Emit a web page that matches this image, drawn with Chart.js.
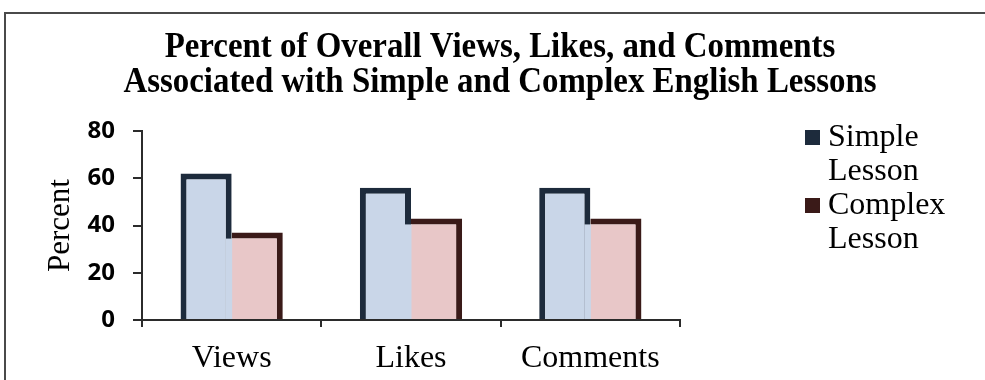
<!DOCTYPE html>
<html>
<head>
<meta charset="utf-8">
<script src="https://cdn.jsdelivr.net/npm/chart.js@4"></script>
<style>
  html, body { margin: 0; padding: 0; background: #fff; }
  #wrap { width: 985px; height: 380px; }
</style>
</head>
<body>
<div id="wrap"><canvas id="lessonChart" width="985" height="380"></canvas></div>
<script>
// ── Data ─────────────────────────────────────────────────────
const categories    = ['Views', 'Likes', 'Comments'];
const simpleValues  = [62, 56, 56];
const complexValues = [37, 43, 43];
const seriesLabels  = [['Simple', 'Lesson'], ['Complex', 'Lesson']];
const yTicks        = [0, 20, 40, 60, 80];
const titleLines    = ['Percent of Overall Views, Likes, and Comments',
                       'Associated with Simple and Complex English Lessons'];
const yAxisTitle    = 'Percent';

const serif = "'Liberation Serif', 'Times New Roman', serif";
const sans  = "'Open Sans', 'DejaVu Sans', sans-serif";
const simpleFill = '#c9d6e8';

// ── Title, legend and frame drawn on top of the chart ────────
const decor = {
  id: 'decor',
  beforeDraw(chart) {
    const c = chart.ctx;
    c.save();
    c.strokeStyle = '#4a4a4a';
    c.lineWidth = 2;
    c.beginPath();
    c.moveTo(5, 380);
    c.lineTo(5, 13);
    c.lineTo(985, 13);
    c.stroke();
    c.restore();
  },
  afterDatasetsDraw(chart) {
    // hide the simple bar's right edge where the complex bar sits next to it
    const c = chart.ctx;
    const simple = chart.getDatasetMeta(0).data;
    const complex = chart.getDatasetMeta(1).data;
    c.save();
    c.fillStyle = simpleFill;
    simple.forEach((bar, i) => {
      const right = bar.x + bar.width / 2;
      const top = complex[i].y + 6;
      c.fillRect(right - 6, top, 6.5, complex[i].base - top);
    });
    c.restore();
  },
  afterDraw(chart) {
    const c = chart.ctx;
    c.save();
    // title (condensed bold serif)
    c.fillStyle = '#000';
    c.textAlign = 'center';
    c.textBaseline = 'alphabetic';
    c.font = 'bold 35px ' + serif;
    titleLines.forEach((line, i) => {
      c.save();
      c.translate(500, 57 + i * 35);
      c.scale(0.94, 1);
      c.fillText(line, 0, 0);
      c.restore();
    });

    // legend
    c.textAlign = 'left';
    c.font = '32px ' + serif;
    chart.data.datasets.forEach((ds, i) => {
      const base = 146 + i * 68;
      c.fillStyle = ds.borderColor;
      c.fillRect(805, base - 16, 15, 15);
      c.fillStyle = '#000';
      seriesLabels[i].forEach((t, j) => c.fillText(t, 828, base + j * 34));
    });
    c.restore();
  }
};

// ── Chart ────────────────────────────────────────────────────
const ctx = document.getElementById('lessonChart').getContext('2d');

new Chart(ctx, {
  type: 'bar',
  data: {
    labels: categories,
    datasets: [
      {
        label: seriesLabels[0].join(' '),
        data: simpleValues,
        backgroundColor: simpleFill,
        borderColor: '#1d2b3c',
        borderWidth: { top: 6, left: 6, right: 6, bottom: 0 },
        borderSkipped: 'start',
      },
      {
        label: seriesLabels[1].join(' '),
        data: complexValues,
        backgroundColor: '#e8c7c8',
        borderColor: '#3a1a18',
        borderWidth: { top: 6, left: 0, right: 6, bottom: 0 },
        borderSkipped: 'start',
      },
    ],
  },
  options: {
    responsive: false,
    animation: false,
    layout: { padding: { top: 131, right: 305, bottom: 0, left: 0 } },
    datasets: {
      bar: { categoryPercentage: 0.57, barPercentage: 1 },
    },
    scales: {
      x: {
        afterFit: axis => { axis.height = 60; },
        grid: {
          drawOnChartArea: false,
          drawTicks: true,
          tickLength: 7,
          color: '#2b2b2b',
          lineWidth: 2,
        },
        border: { display: true, color: '#2b2b2b', width: 2 },
        ticks: {
          color: '#000',
          padding: 16,
          font: { family: serif, size: 32, lineHeight: 1 },
        },
      },
      y: {
        min: 0,
        max: 80,
        afterBuildTicks: axis => { axis.ticks = yTicks.map(v => ({ value: v })); },
        afterFit: axis => { axis.width = 142; },
        grid: {
          drawOnChartArea: false,
          drawTicks: true,
          tickLength: 9,
          color: '#2b2b2b',
          lineWidth: 2,
        },
        border: { display: true, color: '#2b2b2b', width: 2 },
        ticks: {
          color: '#000',
          padding: 18,
          font: { family: sans, size: 24, weight: 'bold' },
        },
        title: {
          display: true,
          text: yAxisTitle,
          color: '#000',
          padding: { top: 42, bottom: 0 },
          font: { family: serif, size: 31 },
        },
      },
    },
    plugins: {
      legend: { display: false },
      tooltip: { enabled: false },
    },
  },
  plugins: [decor],
});
</script>
</body>
</html>
